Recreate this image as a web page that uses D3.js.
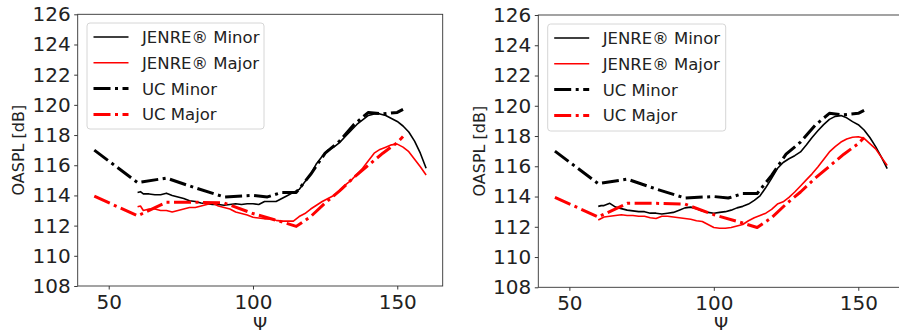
<!DOCTYPE html>
<html><head><meta charset="utf-8">
<script src="https://cdn.jsdelivr.net/npm/d3@7"></script>
<style>
html,body{margin:0;padding:0;background:#fff;}
svg{display:block;font-family:"DejaVu Sans",sans-serif;}
</style></head>
<body>
<svg id="c" width="899" height="335"></svg>
<script>
// ---- data ----
const xTicks = [50, 100, 150];
const yTicks = [108, 110, 112, 114, 116, 118, 120, 122, 124, 126];
const seriesNames = ["JENRE\u00AE Minor", "JENRE\u00AE Major", "UC Minor", "UC Major"];

// UC (measured) — identical in both panels
const ucPsi   = [45, 60, 70, 80, 90, 100, 105, 110, 115, 120, 125, 130, 135, 140, 145, 150, 152];
const ucMinor = [117.0, 114.85, 115.15, 114.5, 113.9, 114.0, 113.9, 114.2, 114.2, 115.4, 116.8, 117.6, 118.7, 119.5, 119.4, 119.5, 119.7];
const ucMajorPsi = [45, 60, 70, 80, 90, 100, 110, 115, 120, 125, 130, 135, 140, 145, 150, 152];
const ucMajor = [113.95, 112.65, 113.55, 113.55, 113.5, 112.8, 112.25, 111.95, 112.6, 113.5, 114.3, 115.2, 116.0, 116.8, 117.5, 117.9];

// JENRE (predicted) — psi grid
const jPsi = [60,61,62,64,66,68,70,72,74,76,78,80,82,84,86,88,90,92,94,96,98,100,102,104,106,108,110,112,114,116,118,120,122,124,126,128,130,132,134,136,138,140,142,144,146,148,150,152,154,156,158,160];

// left panel
const leftJMinor = [114.2,114.25,114.1,114.1,114.05,114.05,114.15,114.0,113.9,113.8,113.65,113.6,113.5,113.45,113.4,113.4,113.35,113.4,113.45,113.4,113.45,113.45,113.4,113.6,113.6,113.6,113.8,114.0,114.2,114.4,114.9,115.4,116.1,116.6,117.0,117.2,117.5,117.9,118.3,118.7,119.0,119.3,119.4,119.4,119.3,119.1,118.9,118.6,118.2,117.6,116.8,115.8];
const leftJMajor = [113.25,113.3,113.0,113.1,113.1,113.0,113.0,112.9,113.0,113.1,113.2,113.2,113.3,113.4,113.5,113.3,113.2,113.1,112.9,112.8,112.7,112.55,112.5,112.45,112.45,112.35,112.3,112.3,112.3,112.6,112.8,113.1,113.35,113.6,113.8,114.0,114.3,114.7,115.0,115.4,115.8,116.3,116.8,117.05,117.2,117.35,117.4,117.2,116.9,116.4,115.9,115.35];

// right panel
const rightJMinor = [113.35,113.4,113.4,113.55,113.3,113.2,113.1,113.05,113.0,113.0,112.9,112.9,112.85,112.9,112.95,113.1,113.25,113.3,113.2,113.05,112.95,112.9,112.95,113.0,113.1,113.25,113.35,113.5,113.75,114.05,114.6,115.2,115.85,116.25,116.5,116.7,116.95,117.4,117.9,118.35,118.75,119.1,119.3,119.35,119.2,118.95,118.75,118.4,117.9,117.3,116.6,115.85];
const rightJMajor = [112.45,112.55,112.65,112.7,112.75,112.8,112.75,112.75,112.7,112.7,112.6,112.55,112.7,112.7,112.65,112.6,112.55,112.5,112.4,112.35,112.15,111.95,111.9,111.9,111.95,112.05,112.15,112.4,112.6,112.75,112.9,113.15,113.5,113.65,113.95,114.3,114.7,115.1,115.5,115.95,116.45,116.95,117.3,117.6,117.8,117.92,117.95,117.85,117.5,117.15,116.6,116.05];

// ---- drawing ----
const svg = d3.select("#c");
const xDomain = [39.25, 165.75];
const yDomain = [108, 126];

const panels = [
  {x0: 77.7, x1: 442.7, y0: 14.3, y1: 286, jMinor: leftJMinor, jMajor: leftJMajor,
   legend: {x: 87, y: 23, w: 177, h: 106}, ylabX: 18.5},
  {x0: 538.3, x1: 903.8, y0: 15, y1: 287.3, jMinor: rightJMinor, jMajor: rightJMajor,
   legend: {x: 547.7, y: 24, w: 178, h: 107}, ylabX: 479.3}
];

const styles = [
  {color: "#000", width: 1.6, dash: null},
  {color: "#ff0000", width: 1.6, dash: null},
  {color: "#000", width: 3, dash: "17,4.5,3,4.5"},
  {color: "#ff0000", width: 3, dash: "17,4.5,3,4.5"}
];

panels.forEach((p, pi) => {
  const x = d3.scaleLinear().domain(xDomain).range([p.x0, p.x1]);
  const y = d3.scaleLinear().domain(yDomain).range([p.y1, p.y0]);
  const g = svg.append("g");

  const clipId = "clip" + pi;
  svg.append("clipPath").attr("id", clipId).append("rect")
    .attr("x", p.x0).attr("y", p.y0).attr("width", p.x1 - p.x0).attr("height", p.y1 - p.y0);

  const line = d3.line().x(d => x(d[0])).y(d => y(d[1]));
  const datasets = [
    d3.zip(jPsi, p.jMinor),
    d3.zip(jPsi, p.jMajor),
    d3.zip(ucPsi, ucMinor),
    d3.zip(ucMajorPsi, ucMajor)
  ];
  const lg = g.append("g").attr("clip-path", `url(#${clipId})`);
  datasets.forEach((ds, i) => {
    const s = styles[i];
    lg.append("path").attr("d", line(ds)).attr("fill", "none")
      .attr("stroke", s.color).attr("stroke-width", s.width)
      .attr("stroke-dasharray", s.dash).attr("stroke-linejoin", "round");
  });

  // axes
  const ax = g.append("g").attr("transform", `translate(0,${p.y1})`)
    .call(d3.axisBottom(x).tickValues(xTicks).tickSize(3.5).tickPadding(3.5));
  const ay = g.append("g").attr("transform", `translate(${p.x0},0)`)
    .call(d3.axisLeft(y).tickValues(yTicks).tickSize(3.5).tickPadding(3.5));
  [ax, ay].forEach(a => {
    a.select(".domain").remove();
    a.selectAll(".tick line").attr("stroke", "#222").attr("stroke-width", 0.9);
    a.selectAll(".tick text").attr("fill", "#222").style("font-size", "20px")
      .style("font-family", "'DejaVu Sans', sans-serif");
  });
  ax.selectAll(".tick text").attr("dy", "0.78em");

  // frame
  g.append("rect").attr("x", p.x0).attr("y", p.y0).attr("width", p.x1 - p.x0).attr("height", p.y1 - p.y0)
    .attr("fill", "none").attr("stroke", "#333").attr("stroke-width", 0.9);

  // labels
  g.append("text").attr("x", (p.x0 + p.x1) / 2).attr("y", 330).attr("text-anchor", "middle")
    .style("font-size", "18px").attr("fill", "#222").text("\u03A8");
  g.append("text").attr("transform", `translate(${p.ylabX},${(p.y0 + p.y1) / 2}) rotate(-90)`)
    .attr("text-anchor", "middle").attr("dy", "0.35em")
    .style("font-size", "16px").attr("fill", "#222").text("OASPL [dB]");

  // legend
  const L = p.legend;
  const leg = g.append("g");
  leg.append("rect").attr("x", L.x).attr("y", L.y).attr("width", L.w).attr("height", L.h)
    .attr("rx", 3).attr("fill", "#fff").attr("fill-opacity", 0.85).attr("stroke", "#d6d6d6").attr("stroke-width", 1);
  seriesNames.forEach((name, i) => {
    const cy = L.y + 14 + i * 25.8;
    const s = styles[i];
    leg.append("line").attr("x1", L.x + 6.5).attr("x2", L.x + 41.5).attr("y1", cy).attr("y2", cy)
      .attr("stroke", s.color).attr("stroke-width", s.width).attr("stroke-dasharray", s.dash);
    leg.append("text").attr("x", L.x + 55).attr("y", cy).attr("dy", "0.36em")
      .style("font-size", "16.5px").attr("fill", "#222").text(name);
  });
});
</script>
</body></html>
